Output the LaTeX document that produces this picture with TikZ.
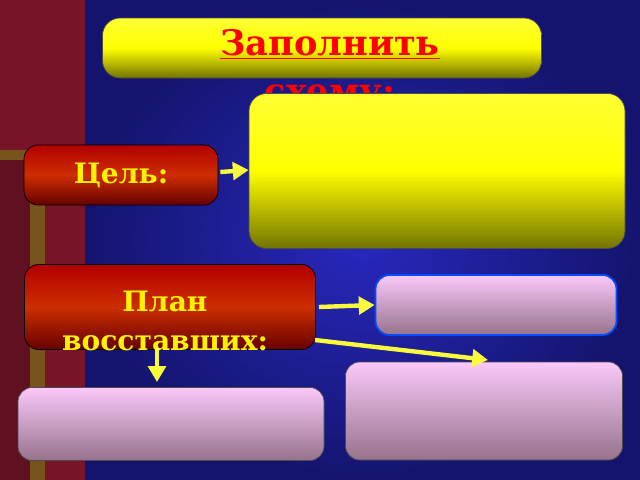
\documentclass[tikz,border=0pt]{standalone}
\usepackage{fontspec}
\setmainfont{DejaVu Serif}
\usetikzlibrary{arrows.meta,positioning}
\definecolor{bgblue}{RGB}{40,40,190}
\definecolor{bgdark}{RGB}{20,20,110}
\definecolor{frame}{RGB}{120,20,40}
\definecolor{gold}{RGB}{170,120,40}
\definecolor{arrowyel}{RGB}{250,250,60}
\definecolor{pinktop}{RGB}{250,200,250}
\definecolor{pinkbot}{RGB}{150,115,140}
\tikzset{
  yelbox/.style={draw=black!70,rounded corners=10pt,top color=yellow!80!white,bottom color=yellow!45!black,middle color=yellow,shading=axis},
  redbox/.style={draw=black,rounded corners=8pt,top color=red!70!black,bottom color=red!40!black,middle color=red!55!orange!80!black,
    text=yellow,font=\bfseries\fontsize{16}{22}\selectfont,align=center},
  pinkbox/.style={draw=black!70,rounded corners=8pt,top color=pinktop,bottom color=pinkbot},
  link/.style={draw=arrowyel,line width=2.5pt,-{Triangle[length=9pt,width=10pt]}}
}
\begin{document}
\begin{tikzpicture}[x=0.02cm,y=-0.02cm]
  \useasboundingbox (0,0) rectangle (640,480);
  % background
  \fill[frame] (0,0) rectangle (90,480);
  \fill[gold!70!black] (0,150) rectangle (45,480);
  \fill[frame!80!black] (0,160) rectangle (30,480);
  \shade[inner color=bgblue,outer color=bgdark] (85,0) rectangle (640,480);
  % title
  \node[yelbox,minimum width=439*0.02cm,minimum height=60*0.02cm] (title) at (322,48) {};
  \node[text=red,font=\bfseries\fontsize{20}{27}\selectfont,text width=4.5cm,align=center] (titletext) at (330,72)
    {\underline{Заполнить} \underline{схему:}};
  % boxes
  \node[yelbox,minimum width=376*0.02cm,minimum height=155*0.02cm] (aim) at (437,171) {};
  \node[redbox,minimum width=194*0.02cm,minimum height=60*0.02cm] (goal) at (121,175) {Цель:};
  \node[redbox,minimum width=291*0.02cm,minimum height=85*0.02cm] (plan) at (170,307) {};
  \node[text=yellow,font=\bfseries\fontsize{16}{22}\selectfont,align=center] (plantext) at (165,321) {План\\восставших:};
  \node[pinkbox,draw=blue!70!cyan,line width=1pt,minimum width=241*0.02cm,minimum height=60*0.02cm] (stepa) at (496,305) {};
  \node[pinkbox,minimum width=277*0.02cm,minimum height=98*0.02cm] (stepb) at (484,411) {};
  \node[pinkbox,minimum width=306*0.02cm,minimum height=73*0.02cm] (stepc) at (171,424) {};
  % arrows
  \coordinate (pd) at (157,348);
  \coordinate (pr) at (315,340);
  \coordinate (bt) at (488,360);
  \draw[link] (plan.east) ++(3,0) -- (stepa.west);
  \draw[link] (goal.east) ++(2,-3) -- (aim.west |- 0,170);
  \draw[link] (pr) -- (bt);
  \draw[link] (pd) -- (157,382);
\end{tikzpicture}
\end{document}
